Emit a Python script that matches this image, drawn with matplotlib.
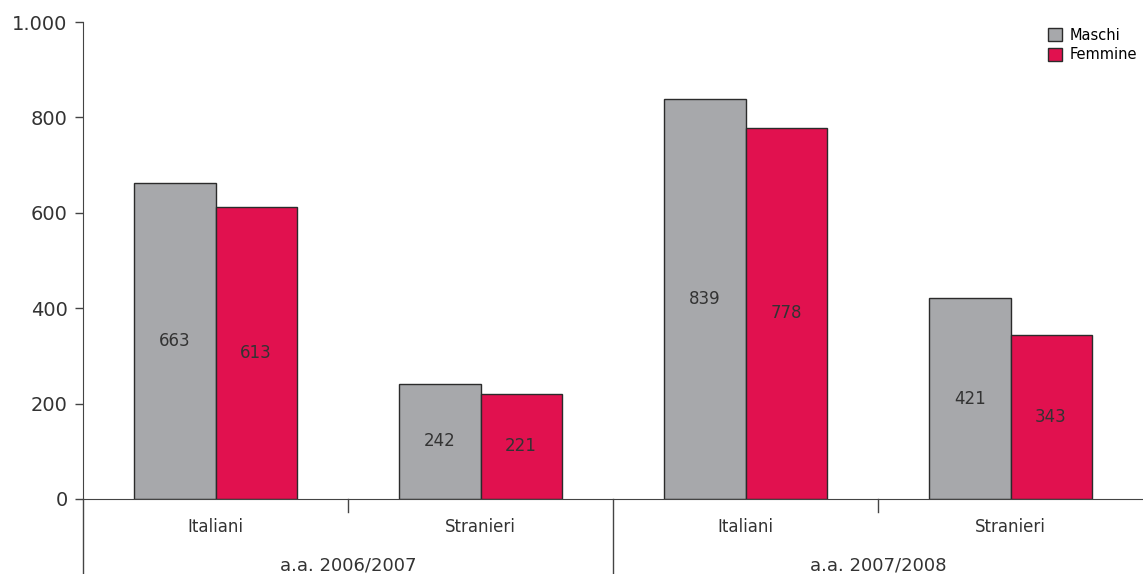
import matplotlib
matplotlib.use("Agg")
import matplotlib.pyplot as plt
from matplotlib.ticker import FuncFormatter
from matplotlib.patches import Patch
import numpy as np

# Iscritti per anno accademico, cittadinanza e sesso
anni = ['a.a. 2006/2007', 'a.a. 2007/2008']
categorie = ['Italiani', 'Stranieri', 'Italiani', 'Stranieri']
maschi = [663, 242, 839, 421]
femmine = [613, 221, 778, 343]

GRIGIO = '#A7A8AB'
ROSSO = '#E1114F'
BORDO = '#2B2B2B'
TESTO = '#333333'

plt.rcParams['font.family'] = ['DejaVu Sans']

fig = plt.figure(figsize=(11.43, 5.74), dpi=100)
ax = fig.add_axes([83 / 1143, 75 / 574, 1 - 83 / 1143, 477 / 574])

x = np.arange(len(categorie)) + 0.5
w = 0.306
ax.bar(x - w / 2, maschi, w, color=GRIGIO, edgecolor=BORDO, linewidth=1, label='Maschi')
ax.bar(x + w / 2, femmine, w, color=ROSSO, edgecolor=BORDO, linewidth=1, label='Femmine')

# etichette dei valori a metà barra
for xi, m, f in zip(x, maschi, femmine):
    ax.text(xi - w / 2, m / 2, str(m), ha='center', va='center', fontsize=12, color=TESTO)
    ax.text(xi + w / 2, f / 2, str(f), ha='center', va='center', fontsize=12, color=TESTO)

ax.set_xlim(0, len(categorie))
ax.set_ylim(0, 1000)
ax.set_yticks(range(0, 1001, 200))
ax.yaxis.set_major_formatter(FuncFormatter(lambda v, p: f'{int(v):,}'.replace(',', '.')))
ax.tick_params(axis='y', labelsize=14, colors='#444444', labelcolor='#333333', length=6, width=1, pad=5)
ax.set_xticks([])

for s in ['top', 'right']:
    ax.spines[s].set_visible(False)
ax.spines['left'].set_color('#444444')
ax.spines['bottom'].set_color('#444444')

# asse categorie su due livelli
tr = ax.get_xaxis_transform()
fondo = -75 / 477
ax.plot([0, 0], [0, fondo], transform=tr, color='#444444', lw=1, clip_on=False)
ax.plot([2, 2], [0, fondo], transform=tr, color='#444444', lw=1, clip_on=False)
for sep in [1, 3]:
    ax.plot([sep, sep], [0, -13 / 477], transform=tr, color='#444444', lw=1, clip_on=False)
for xi, nome in zip(x, categorie):
    ax.text(xi, -28 / 477, nome, transform=tr, ha='center', va='center', fontsize=12, color='#333333')
for i, anno in enumerate(anni):
    ax.text(2 * i + 1, -67 / 477, anno, transform=tr, ha='center', va='center', fontsize=13, color='#333333')

handles = [Patch(facecolor=GRIGIO, edgecolor=BORDO), Patch(facecolor=ROSSO, edgecolor=BORDO)]
ax.legend(handles, ['Maschi', 'Femmine'], loc='upper right', bbox_to_anchor=(1.0, 1.0),
          frameon=False, fontsize=10.5, handlelength=1.0, handleheight=1.0,
          handletextpad=0.5, labelspacing=0.3, borderaxespad=0.0)

fig.savefig('out.png', dpi=100)
